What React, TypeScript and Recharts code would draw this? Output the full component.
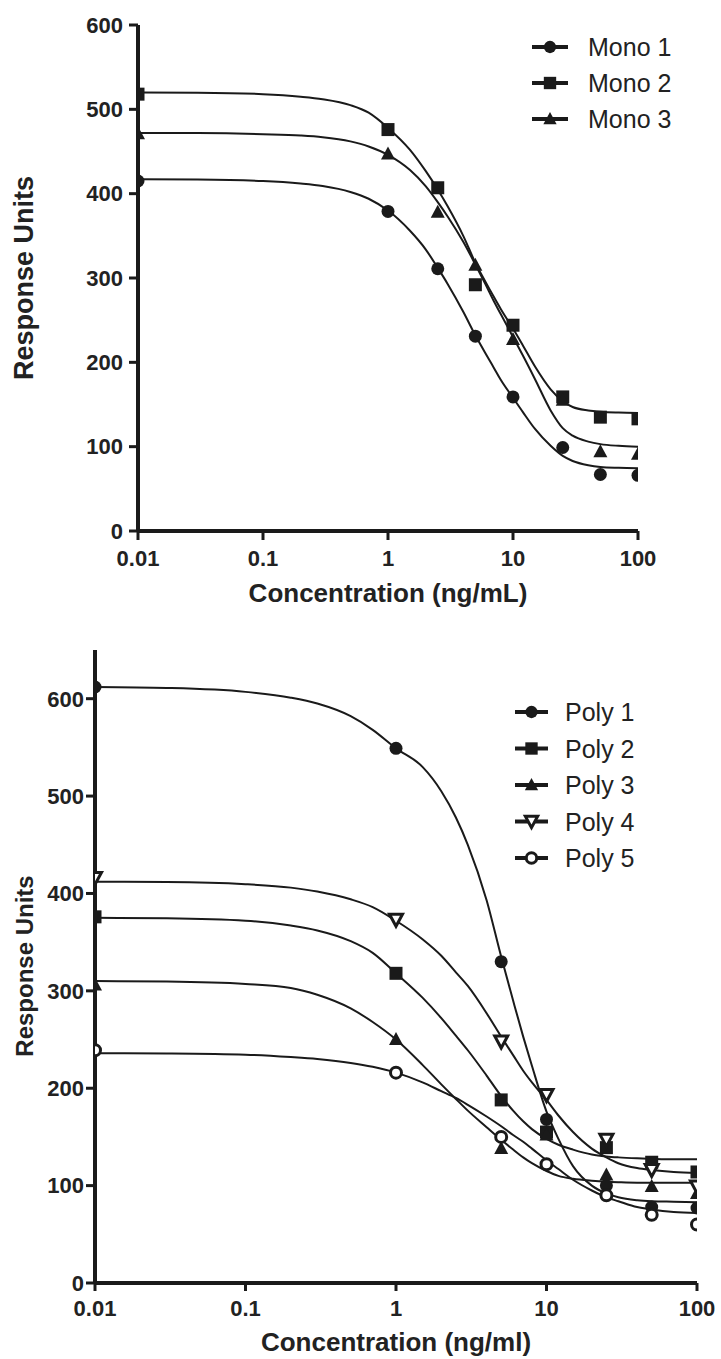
import React from 'react';
import { ComposedChart, Line, Scatter, XAxis, YAxis, Legend } from 'recharts';

const FONT = '"Liberation Sans", Arial, Helvetica, sans-serif';
const INK = '#1a1a1a';
const TEXT = '#222222';

// ---------- shared ----------
const X_TICKS = [0.01, 0.1, 1, 10, 100];
const CURVE_X = [0.01, 0.03, 0.1, 0.2, 0.3, 0.5, 0.7, 1, 1.5, 2, 2.5, 3, 4, 5, 6, 7, 8, 10, 12, 15, 20, 25, 30, 40, 50, 70, 100];

// ---------- top chart (monoclonal) ----------
const TOP_Y_TICKS = [0, 100, 200, 300, 400, 500, 600];
const TOP_POINT_X = [0.01, 1, 2.5, 5, 10, 25, 50, 100];
const MONO1 = [415, 379, 311, 231, 159, 99, 67, 66];
const MONO2 = [518, 476, 407, 292, 244, 159, 135, 133];
const MONO3 = [471, 447, 378, 315, 227, 155, 94, 91];
const MONO1_FIT = [417, 416.7, 415, 412, 409, 402, 394, 380, 356, 334, 312, 293, 260, 232, 211, 194, 179, 158, 141, 121, 101, 89, 83, 78, 76, 75, 74.5];
const MONO2_FIT = [520, 519.7, 518, 515, 512, 505, 496, 478, 452, 427, 405, 385, 350, 318, 296, 278, 263, 240, 220, 195, 168, 154, 147, 143, 141.5, 140.5, 140];
const MONO3_FIT = [472, 471.8, 470.5, 469, 467, 462, 456, 446, 428, 409, 390, 373, 343, 316, 293, 273, 257, 230, 208, 180, 143, 122, 113, 106, 103, 101, 100];
const TOP_NAMES = ['Mono 1', 'Mono 2', 'Mono 3'];

// ---------- bottom chart (polyclonal) ----------
const BOT_Y_TICKS = [0, 100, 200, 300, 400, 500, 600];
const BOT_POINT_X = [0.01, 1, 5, 10, 25, 50, 100];
const POLY1 = [612, 549, 330, 168, 100, 78, 77];
const POLY2 = [376, 318, 188, 155, 139, 124, 114];
const POLY3 = [306, 250, 138, 152, 111, 99, 92];
const POLY4 = [416, 373, 248, 193, 147, 116, 99];
const POLY5 = [239, 216, 150, 122, 90, 70, 60];
const POLY1_FIT = [612, 611, 607, 601, 595, 582, 568, 549, 530, 505, 478, 450, 393, 335, 290, 253, 223, 176, 148, 120, 100, 92, 88, 85, 84, 83.5, 83];
const POLY2_FIT = [375, 374.5, 372, 367, 362, 351, 339, 318, 293, 272, 254, 239, 213, 192, 177, 166, 158, 148, 142, 137, 132, 130, 129, 128, 127.5, 127, 127];
const POLY3_FIT = [310, 309.5, 307, 303, 296, 282, 268, 250, 224, 204, 189, 177, 160, 147, 137, 129, 123, 115, 110, 107, 105, 104, 103.5, 103, 103, 103, 103];
const POLY4_FIT = [412, 411.7, 409.5, 406, 402, 394, 386, 372, 353, 336, 319, 305, 277, 253, 234, 218, 206, 188, 172, 155, 138, 129, 123, 118, 116, 114, 113];
const POLY5_FIT = [236, 235.7, 234.5, 232, 230, 226, 222, 216, 206, 197, 190, 183, 171, 161, 152, 145, 138, 126, 117, 106, 95, 88, 84, 78, 75.5, 73, 72];
const BOT_NAMES = ['Poly 1', 'Poly 2', 'Poly 3', 'Poly 4', 'Poly 5'];

const toPoints = (xs: number[], ys: number[]) => xs.map((x, i) => ({ x, y: ys[i] }));

type Kind = 'circle' | 'square' | 'triangle' | 'triangleDown' | 'circleOpen';

function Marker({ kind, cx, cy, s = 1 }: { kind: Kind; cx: number; cy: number; s?: number }) {
  if (cx == null || cy == null || isNaN(cx) || isNaN(cy)) return null;
  switch (kind) {
    case 'circle':
      return <circle cx={cx} cy={cy} r={6.5 * s} fill={INK} />;
    case 'square':
      return <rect x={cx - 6.5 * s} y={cy - 6.5 * s} width={13 * s} height={13 * s} fill={INK} />;
    case 'triangle':
      return (
        <polygon
          points={`${cx},${cy - 7.5 * s} ${cx + 7 * s},${cy + 5.5 * s} ${cx - 7 * s},${cy + 5.5 * s}`}
          fill={INK}
        />
      );
    case 'triangleDown':
      return (
        <polygon
          points={`${cx - 6.5 * s},${cy - 5.5 * s} ${cx + 6.5 * s},${cy - 5.5 * s} ${cx},${cy + 6.5 * s}`}
          fill="#fff"
          stroke={INK}
          strokeWidth={3}
          strokeLinejoin="miter"
        />
      );
    case 'circleOpen':
      return <circle cx={cx} cy={cy} r={5.5 * s} fill="#fff" stroke={INK} strokeWidth={3} />;
  }
  return null;
}

function AxisTitle({ tx, ty, text, size, rotate }: any) {
  return (
    <text
      x={tx}
      y={ty}
      transform={rotate ? `rotate(-90 ${tx} ${ty})` : undefined}
      textAnchor="middle"
      dominantBaseline="central"
      fontFamily={FONT}
      fontWeight="bold"
      fontSize={size}
      fill={TEXT}
    >
      {text}
    </text>
  );
}

function LegendBox({ names, kinds, lineX1, lineX2, textX, rowY0, rowStep, width, height }: any) {
  const mx = (lineX1 + lineX2) / 2;
  return (
    <svg width={width} height={height} style={{ display: 'block', overflow: 'visible' }}>
      {names.map((n: string, i: number) => {
        const y = rowY0 + i * rowStep;
        return (
          <g key={n}>
            <line x1={lineX1} x2={lineX2} y1={y} y2={y} stroke={INK} strokeWidth={4} />
            <Marker kind={kinds[i]} cx={mx} cy={y} s={0.95} />
            <text
              x={textX}
              y={y}
              dominantBaseline="central"
              fontFamily={FONT}
              fontSize={25}
              fill={TEXT}
            >
              {n}
            </text>
          </g>
        );
      })}
    </svg>
  );
}

const tickStyle = { fill: TEXT, fontSize: 22, fontWeight: 'bold', fontFamily: FONT } as any;

function TopChart() {
  const fits = [MONO1_FIT, MONO2_FIT, MONO3_FIT];
  const pts = [MONO1, MONO2, MONO3];
  const kinds: Kind[] = ['circle', 'square', 'triangle'];
  return (
    <ComposedChart width={721} height={620} margin={{ top: 25, right: 83, bottom: 9, left: 0 }}>
      <XAxis
        type="number"
        dataKey="x"
        scale="log"
        domain={[0.01, 100]}
        ticks={X_TICKS}
        interval={0}
        allowDataOverflow
        height={80}
        axisLine={{ stroke: INK, strokeWidth: 4 }}
        tickLine={{ stroke: INK, strokeWidth: 3 }}
        tickSize={9}
        tickMargin={10}
        tick={tickStyle}
        tickFormatter={(v: number) => String(v)}
        label={<AxisTitle tx={388} ty={593} size={26} text="Concentration (ng/mL)" />}
      />
      <YAxis
        type="number"
        dataKey="y"
        domain={[0, 600]}
        ticks={TOP_Y_TICKS}
        interval={0}
        width={138}
        axisLine={{ stroke: INK, strokeWidth: 4 }}
        tickLine={{ stroke: INK, strokeWidth: 3 }}
        tickSize={9}
        tickMargin={6}
        tick={tickStyle}
        label={<AxisTitle tx={24} ty={278} size={27} rotate text="Response Units" />}
      />
      {fits.map((f, i) => (
        <Line
          key={'f' + i}
          data={toPoints(CURVE_X, f)}
          dataKey="y"
          type="monotone"
          stroke={INK}
          strokeWidth={2}
          dot={false}
          activeDot={false}
          legendType="none"
          isAnimationActive={false}
        />
      ))}
      {pts.map((p, i) => (
        <Scatter
          key={'p' + i}
          name={TOP_NAMES[i]}
          data={toPoints(TOP_POINT_X, p)}
          dataKey="y"
          isAnimationActive={false}
          shape={(props: any) => <Marker kind={kinds[i]} cx={props.cx} cy={props.cy} />}
        />
      ))}
      <Legend
        layout="vertical"
        align="center"
        verticalAlign="middle"
        wrapperStyle={{ left: 525, top: 25, width: 190, height: 120 }}
        content={() => (
          <LegendBox
            names={TOP_NAMES}
            kinds={kinds}
            lineX1={7}
            lineX2={43}
            textX={63}
            rowY0={22}
            rowStep={36}
            width={190}
            height={120}
          />
        )}
      />
    </ComposedChart>
  );
}

function BottomChart() {
  const fits = [POLY1_FIT, POLY2_FIT, POLY3_FIT, POLY4_FIT, POLY5_FIT];
  const pts = [POLY1, POLY2, POLY3, POLY4, POLY5];
  const kinds: Kind[] = ['circle', 'square', 'triangle', 'triangleDown', 'circleOpen'];
  return (
    <ComposedChart width={721} height={739} margin={{ top: 30, right: 24, bottom: 6, left: 0 }}>
      <XAxis
        type="number"
        dataKey="x"
        scale="log"
        domain={[0.01, 100]}
        ticks={X_TICKS}
        interval={0}
        allowDataOverflow
        height={70}
        axisLine={{ stroke: INK, strokeWidth: 4 }}
        tickLine={{ stroke: INK, strokeWidth: 3 }}
        tickSize={8}
        tickMargin={9}
        tick={tickStyle}
        tickFormatter={(v: number) => String(v)}
        label={<AxisTitle tx={396} ty={722} size={26} text="Concentration (ng/ml)" />}
      />
      <YAxis
        type="number"
        dataKey="y"
        domain={[0, 650]}
        ticks={BOT_Y_TICKS}
        interval={0}
        width={95}
        axisLine={{ stroke: INK, strokeWidth: 4 }}
        tickLine={{ stroke: INK, strokeWidth: 3 }}
        tickSize={9}
        tickMargin={2}
        tick={tickStyle}
        label={<AxisTitle tx={24} ty={346} size={24} rotate text="Response Units" />}
      />
      {fits.map((f, i) => (
        <Line
          key={'f' + i}
          data={toPoints(CURVE_X, f)}
          dataKey="y"
          type="monotone"
          stroke={INK}
          strokeWidth={2}
          dot={false}
          activeDot={false}
          legendType="none"
          isAnimationActive={false}
        />
      ))}
      {pts.map((p, i) => (
        <Scatter
          key={'p' + i}
          name={BOT_NAMES[i]}
          data={toPoints(BOT_POINT_X, p)}
          dataKey="y"
          isAnimationActive={false}
          shape={(props: any) => <Marker kind={kinds[i]} cx={props.cx} cy={props.cy} />}
        />
      ))}
      <Legend
        layout="vertical"
        align="center"
        verticalAlign="middle"
        wrapperStyle={{ left: 505, top: 70, width: 200, height: 190 }}
        content={() => (
          <LegendBox
            names={BOT_NAMES}
            kinds={kinds}
            lineX1={10}
            lineX2={43}
            textX={60}
            rowY0={22}
            rowStep={36.5}
            width={200}
            height={190}
          />
        )}
      />
    </ComposedChart>
  );
}

export default function App() {
  return (
    <div style={{ position: 'absolute', left: 0, top: 0, width: 721, height: 1359, background: '#fff' }}>
      <div style={{ position: 'absolute', left: 0, top: 0 }}>
        <TopChart />
      </div>
      <div style={{ position: 'absolute', left: 0, top: 620 }}>
        <BottomChart />
      </div>
    </div>
  );
}
